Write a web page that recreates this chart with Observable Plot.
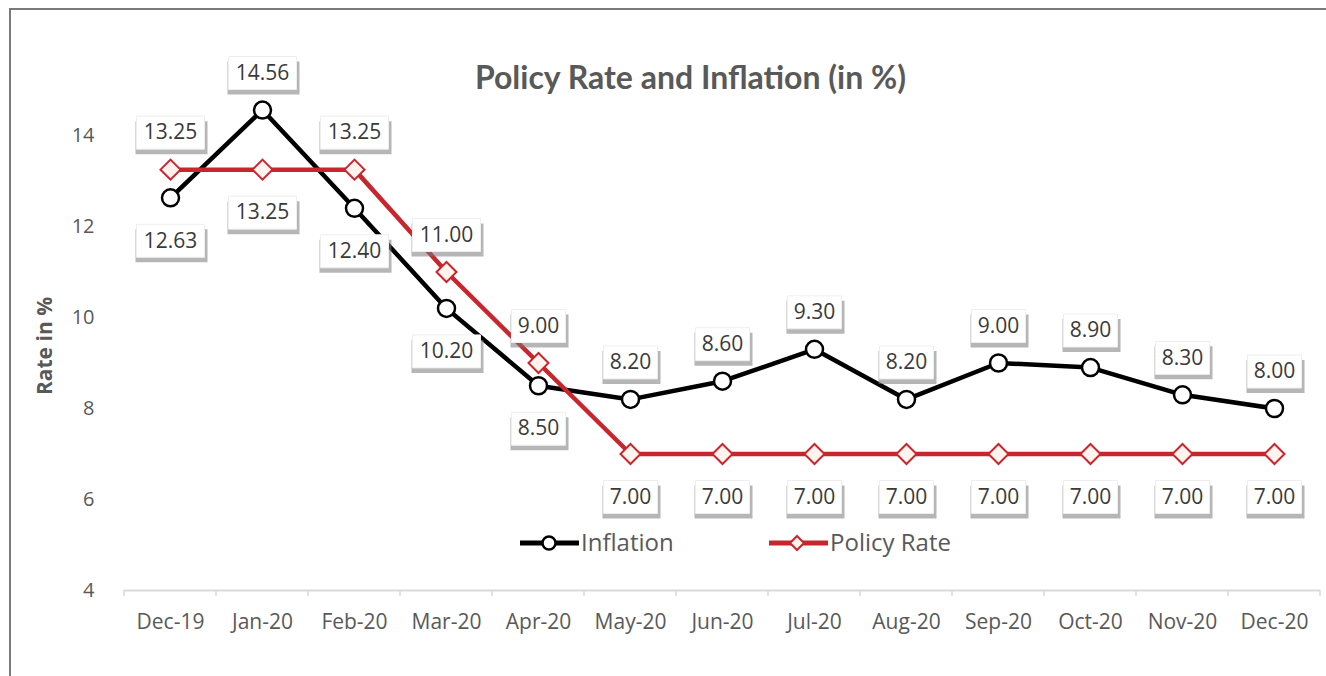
<!DOCTYPE html>
<html><head><meta charset="utf-8">
<script src="https://cdn.jsdelivr.net/npm/d3@7"></script>
<script src="https://cdn.jsdelivr.net/npm/@observablehq/plot@0.6"></script>
<style>
body{margin:0;background:#fff;}
#wrap{position:relative;width:1326px;height:676px;overflow:hidden;background:#fff;font-family:'Open Sans',sans-serif;}
#frame{position:absolute;left:9px;top:8px;width:1400px;height:800px;border-left:2px solid #7a7a7a;border-top:2px solid #7a7a7a;}
#chart{position:absolute;left:0;top:0;}
#legend{position:absolute;left:0;top:0;}
</style></head>
<body><div id="wrap"><div id="frame"></div><div id="chart"></div><svg id="legend" width="1326" height="676"></svg></div>
<script>
const months = ["Dec-19","Jan-20","Feb-20","Mar-20","Apr-20","May-20","Jun-20","Jul-20","Aug-20","Sep-20","Oct-20","Nov-20","Dec-20"];
const inflation = [12.63,14.56,12.40,10.20,8.50,8.20,8.60,9.30,8.20,9.00,8.90,8.30,8.00];
const policyRate = [13.25,13.25,13.25,11.00,9.00,7.00,7.00,7.00,7.00,7.00,7.00,7.00,7.00];
const inflationLabelSide = ["below","above","below","below","below","above","above","above","above","above","above","above","above"];
const policyLabelSide = ["above","below","above","above","above","below","below","below","below","below","below","below","below"];
const yTicks = [4,6,8,10,12,14];
const seriesNames = ["Inflation","Policy Rate"];
const seriesColors = ["#000000","#c8252c"];
const title = "Policy Rate and Inflation (in %)";
const yLabel = "Rate in %";

const rows = months.flatMap((m,i)=>[
  {month:m, value:inflation[i], series:seriesNames[0], side:inflationLabelSide[i]},
  {month:m, value:policyRate[i], series:seriesNames[1], side:policyLabelSide[i]}
]);
const infRows = rows.filter(r=>r.series===seriesNames[0]);
const polRows = rows.filter(r=>r.series===seriesNames[1]);
const fmt = d3.format(".2f");

function boxSymbol(w,h){return {draw(ctx){ctx.rect(-w/2,-h/2,w,h);}};}
const diamond = {draw(ctx){const s=10;ctx.moveTo(0,-s);ctx.lineTo(s,0);ctx.lineTo(0,s);ctx.lineTo(-s,0);ctx.closePath();}};

function labelMarks(side, dy){
  const d = rows.filter(r=>r.side===side);
  const marks = [];
  for (const [len,w] of [[4,54],[5,68]]) {
    const dd = d.filter(r=>fmt(r.value).length===len);
    marks.push(Plot.dot(dd,{x:"month",y:"value",dy:dy+5,dx:1,symbol:boxSymbol(w+4,33),fill:"#7a7a7a",fillOpacity:0.55,ariaLabel:"soft-shadow"}));
    marks.push(Plot.dot(dd,{x:"month",y:"value",dy,symbol:boxSymbol(w,33),fill:"white",stroke:"#eeeeee",strokeWidth:1}));
  }
  marks.push(Plot.text(d,{x:"month",y:"value",dy,text:r=>fmt(r.value),fontSize:21,fill:"#3a3a3a"}));
  return marks;
}

const plot = Plot.plot({
  width:1326, height:676,
  marginLeft:124, marginRight:6, marginTop:135, marginBottom:86,
  style:{fontFamily:"'Open Sans', sans-serif", background:"transparent", overflow:"visible"},
  x:{domain:months, type:"point", padding:0.5, round:false},
  y:{domain:[4,14]},
  marks:[
    Plot.ruleY([4],{stroke:"#d9d9d9",strokeWidth:2}),
    Plot.axisX({tickSize:0, tickPadding:24, fontSize:21, color:"#595959", label:null}),
    Plot.axisY({ticks:yTicks, tickSize:0, tickPadding:30, fontSize:20, color:"#595959", label:null}),
    Plot.text([yLabel],{frameAnchor:"left", textAnchor:"middle", lineAnchor:"middle", dx:-79, dy:-17, rotate:-90, fontSize:21, fontWeight:"bold", fill:"#595959"}),
    Plot.text([title],{frameAnchor:"top", lineAnchor:"middle", dx:-32, dy:-57, fontSize:32, fontWeight:"bold", fill:"#595959", fontFamily:"Lato, sans-serif"}),
    Plot.line(infRows,{x:"month", y:"value", stroke:"#777", strokeOpacity:0.45, strokeWidth:5, dy:3, ariaLabel:"soft-shadow"}),
    Plot.line(polRows,{x:"month", y:"value", stroke:"#777", strokeOpacity:0.45, strokeWidth:5, dy:3, ariaLabel:"soft-shadow"}),
    Plot.line(infRows,{x:"month", y:"value", stroke:seriesColors[0], strokeWidth:4.5}),
    Plot.line(polRows,{x:"month", y:"value", stroke:seriesColors[1], strokeWidth:4.5}),
    Plot.dot(infRows,{x:"month", y:"value", r:8.5, fill:"white", stroke:seriesColors[0], strokeWidth:2.5}),
    Plot.dot(polRows,{x:"month", y:"value", symbol:diamond, fill:"#fff3ee", stroke:seriesColors[1], strokeWidth:2}),
    ...labelMarks("above",-37),
    ...labelMarks("below",43)
  ]
});
document.getElementById("chart").appendChild(plot);

// tick marks at category boundaries, derived from the x scale
const xs = plot.scale("x");
const ys = plot.scale("y");
const pos = months.map(m=>xs.apply(m));
const bounds = [xs.range[0], ...pos.slice(1).map((p,i)=>(p+pos[i])/2), xs.range[1]];
const y0 = ys.apply(4);
d3.select(plot).append("g").selectAll("line").data(bounds).join("line")
  .attr("x1",d=>d).attr("x2",d=>d).attr("y1",y0).attr("y2",y0+6)
  .attr("stroke","#d9d9d9").attr("stroke-width",1.5);
d3.select(plot).selectAll('[aria-label="soft-shadow"]').style("filter","blur(2px)");

// legend
const lg = d3.select("#legend");
const items = [{x:520, sym:"circle"},{x:769, sym:"diamond"}];
items.forEach((it,i)=>{
  const g = lg.append("g").attr("transform",`translate(${it.x},543)`);
  g.append("line").attr("x1",0).attr("x2",59).attr("stroke",seriesColors[i]).attr("stroke-width",5);
  if (it.sym==="circle") g.append("circle").attr("cx",29).attr("r",6.5).attr("fill","white").attr("stroke",seriesColors[i]).attr("stroke-width",2.5);
  else g.append("path").attr("d","M28,-7L35,0L28,7L21,0Z").attr("fill","#fff3ee").attr("stroke",seriesColors[i]).attr("stroke-width",2);
  g.append("text").attr("x",61).attr("dy","0.35em").attr("font-size",24).attr("fill","#595959")
    .attr("font-family","'Open Sans', sans-serif").text(seriesNames[i]);
});
</script>
</body></html>
